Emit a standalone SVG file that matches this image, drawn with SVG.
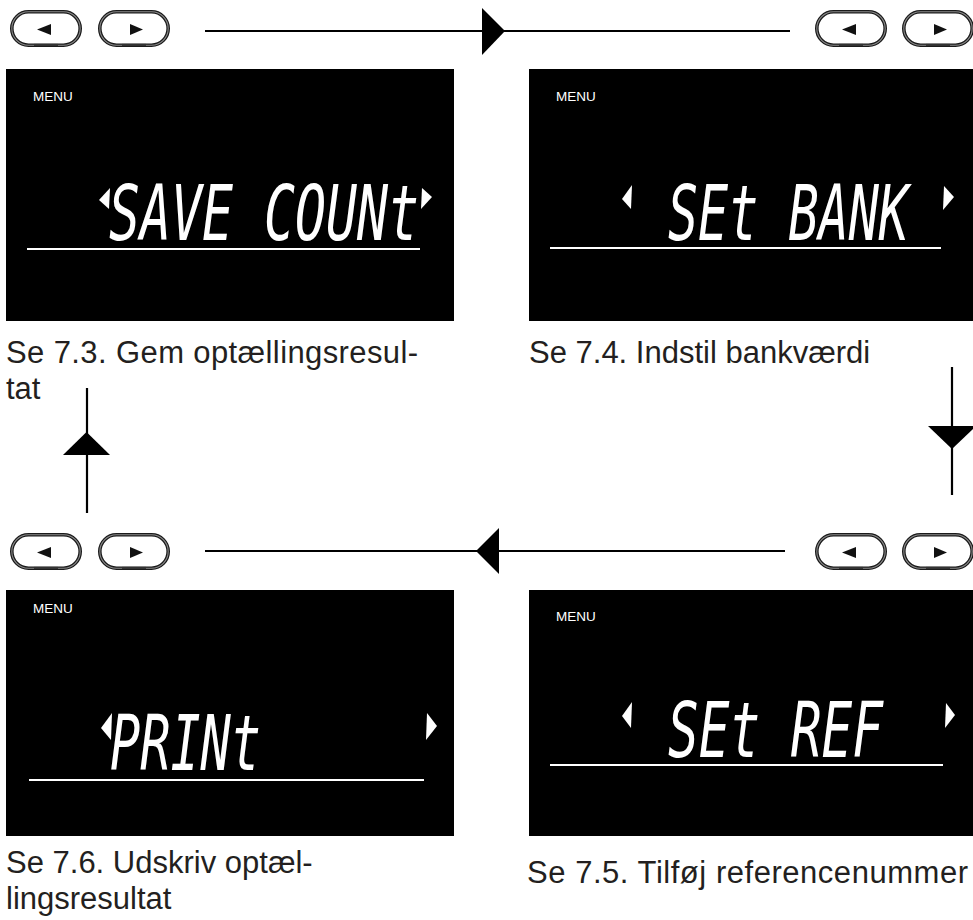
<svg xmlns="http://www.w3.org/2000/svg" xmlns:xlink="http://www.w3.org/1999/xlink" width="973" height="920" viewBox="0 0 973 920">
<style>
.screen{fill:#000}
.menu{font-family:"Liberation Sans",Arial,sans-serif;font-size:13.5px;fill:#fff}
.lcd{font-family:"DejaVu Sans Mono","Liberation Mono",monospace;font-size:50px;font-style:italic;fill:#fff}
.uline{stroke:#fff;stroke-width:2}
.ind{fill:#fff}
.cap{font-family:"Liberation Sans",Arial,sans-serif;font-size:31px;fill:#231f20}
.conn{stroke:#000;stroke-width:2.2;fill:none}
.head{fill:#000}
.bo{fill:#fff;stroke:#1a1a1a;stroke-width:3.6}
.bi{fill:none;stroke:#8a8a8a;stroke-width:1.1}
</style>
<defs>
<g id="btnshape">
<rect class="bo" x="1.8" y="1.8" width="68.4" height="33.4" rx="16.7"/>
<rect class="bi" x="1.8" y="1.8" width="68.4" height="33.4" rx="16.7"/>
<line x1="24" y1="35" x2="48" y2="35" stroke="#333" stroke-width="2.2"/>
</g>
<g id="btnL"><use xlink:href="#btnshape"/><polygon points="27,19.5 41,14 41,25" fill="#111"/></g>
<g id="btnR"><use xlink:href="#btnshape"/><polygon points="32,14 32,25 45,19.5" fill="#111"/></g>
</defs>

<g id="connectors">
<line class="conn" x1="205" y1="31" x2="790" y2="31"/>
<polygon class="head" points="482,8 482,55 505,31"/>
<line class="conn" x1="952" y1="367" x2="952" y2="495"/>
<polygon class="head" points="928,426 976,426 952,449"/>
<line class="conn" x1="205" y1="551" x2="785" y2="551"/>
<polygon class="head" points="499,528 499,574 476,551"/>
<line class="conn" x1="87" y1="388" x2="87" y2="513"/>
<polygon class="head" points="63,455 110,455 86.5,432"/>
</g>

<g id="buttons-top-left">
<use xlink:href="#btnL" x="10" y="10"/>
<use xlink:href="#btnR" x="98" y="10"/>
</g>
<g id="buttons-top-right">
<use xlink:href="#btnL" x="815" y="10"/>
<use xlink:href="#btnR" x="902" y="10"/>
</g>
<g id="buttons-bottom-left">
<use xlink:href="#btnL" x="10" y="533"/>
<use xlink:href="#btnR" x="98" y="533"/>
</g>
<g id="buttons-bottom-right">
<use xlink:href="#btnL" x="815" y="533"/>
<use xlink:href="#btnR" x="902" y="533"/>
</g>

<g id="screen-save-count">
<rect class="screen" x="6" y="69" width="448" height="252"/>
<text class="menu" x="33" y="101">MENU</text>
<polygon class="ind" points="110,188 109,209 99,200"/>
<text class="lcd" transform="translate(109,240) scale(1,1.53)" x="0" y="0" textLength="310" lengthAdjust="spacingAndGlyphs">SAVE COUNt</text>
<polygon class="ind" points="422,188 432,197 421,209"/>
<line class="uline" x1="27" y1="249" x2="420" y2="249"/>
<text class="cap" x="6" y="363" textLength="412" lengthAdjust="spacing">Se 7.3. Gem optællingsresul-</text>
<text class="cap" x="6" y="399">tat</text>
</g>

<g id="screen-set-bank">
<rect class="screen" x="529" y="69" width="444" height="252"/>
<text class="menu" x="556" y="101">MENU</text>
<polygon class="ind" points="632,185 631,209 622,199"/>
<text class="lcd" transform="translate(668,240) scale(1,1.53)" x="0" y="0" textLength="241" lengthAdjust="spacingAndGlyphs">SEt BANK</text>
<polygon class="ind" points="944,186 954,197 943,210"/>
<line class="uline" x1="550" y1="248" x2="941" y2="248"/>
<text class="cap" x="529" y="363">Se 7.4. Indstil bankværdi</text>
</g>

<g id="screen-print">
<rect class="screen" x="6" y="590" width="448" height="246"/>
<text class="menu" x="33" y="613">MENU</text>
<polygon class="ind" points="112,713 111,740 101,728"/>
<text class="lcd" transform="translate(110,770) scale(1,1.53)" x="0" y="0" textLength="151" lengthAdjust="spacingAndGlyphs">PRINt</text>
<polygon class="ind" points="427,713 437,726 426,740"/>
<line class="uline" x1="29" y1="780" x2="424" y2="780"/>
<text class="cap" x="6" y="873">Se 7.6. Udskriv optæl-</text>
<text class="cap" x="6" y="909">lingsresultat</text>
</g>

<g id="screen-set-ref">
<rect class="screen" x="529" y="590" width="444" height="246"/>
<text class="menu" x="556" y="621">MENU</text>
<polygon class="ind" points="632,702 631,728 622,716"/>
<text class="lcd" transform="translate(668,757) scale(1,1.53)" x="0" y="0" textLength="215" lengthAdjust="spacingAndGlyphs">SEt REF</text>
<polygon class="ind" points="946,703 955,715 945,728"/>
<line class="uline" x1="550" y1="765" x2="943" y2="765"/>
<text class="cap" x="527" y="883" textLength="441" lengthAdjust="spacing">Se 7.5. Tilføj referencenummer</text>
</g>
</svg>
